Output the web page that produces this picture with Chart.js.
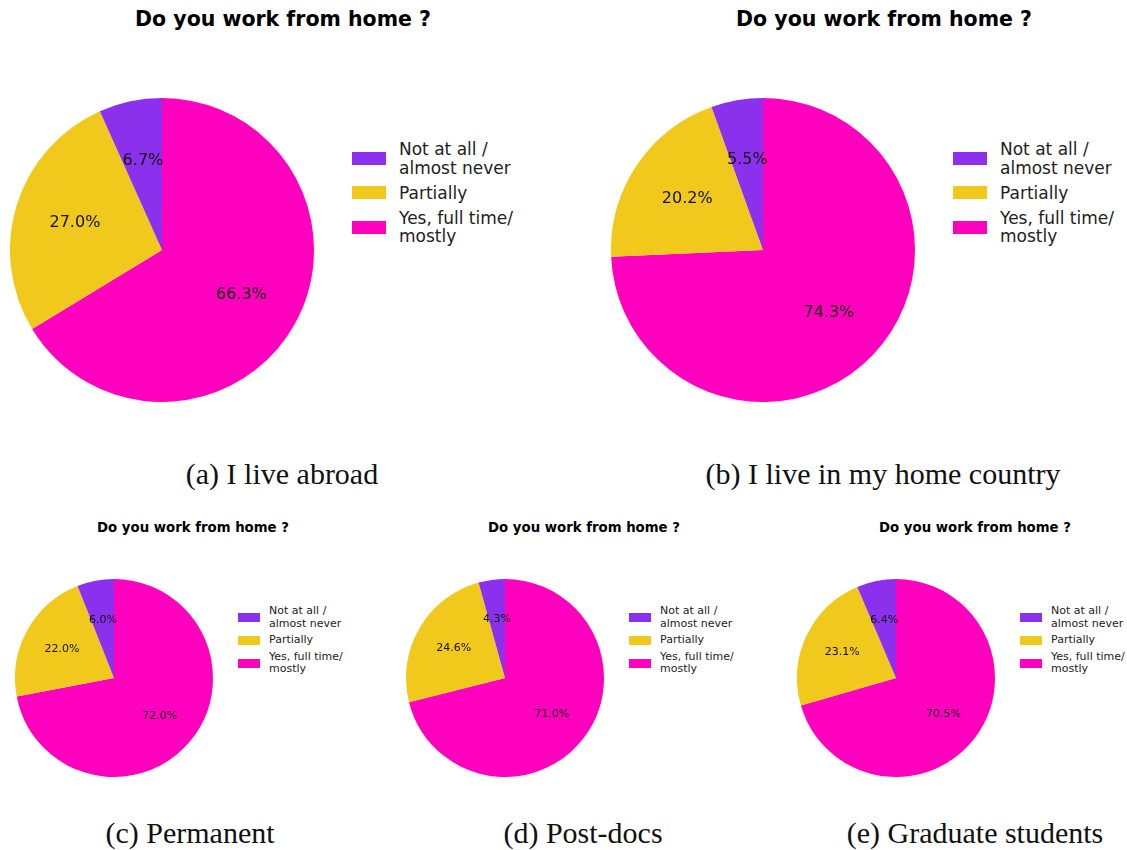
<!DOCTYPE html>
<html>
<head>
<meta charset="utf-8">
<script src="https://cdn.jsdelivr.net/npm/chart.js@4"></script>
<style>
  body { margin: 0; background: #fff; width: 1127px; height: 850px; position: relative; overflow: hidden; }
  .abs { position: absolute; }
  .title { font-family: "DejaVu Sans", sans-serif; font-weight: bold; color: #000; white-space: nowrap; transform: translate(-50%, -50%); }
  .caption { font-family: "Liberation Serif", "DejaVu Serif", serif; color: #111; white-space: nowrap; transform: translate(-50%, -50%); }
  .legend { font-family: "DejaVu Sans", sans-serif; color: #222; }
  .legend .item { display: flex; align-items: center; }
  .legend .sw { flex: none; }
</style>
</head>
<body>
<script>
// Categories and values (percent)
const categories = ['Not at all /\nalmost never', 'Partially', 'Yes, full time/\nmostly'];
const abroad = [6.7, 27.0, 66.3];
const homeCountry = [5.5, 20.2, 74.3];
const permanent = [6.0, 22.0, 72.0];
const postdocs = [4.3, 24.6, 71.0];
const gradStudents = [6.4, 23.1, 70.5];
const colors = ['#8B31EE', '#F1C91C', '#FF00BE'];

const chartTitle = 'Do you work from home ?';

// matplotlib-style percentage labels at 0.6 of the radius
const pctLabels = {
  id: 'pctLabels',
  afterDatasetsDraw(chart, args, opts) {
    const ctx = chart.ctx;
    const meta = chart.getDatasetMeta(0);
    const values = chart.data.datasets[0].data;
    ctx.save();
    ctx.font = opts.size + 'px "DejaVu Sans"';
    ctx.fillStyle = '#111';
    ctx.textAlign = 'center';
    ctx.textBaseline = 'middle';
    meta.data.forEach(function (arc, i) {
      const p = arc.getProps(['x', 'y', 'startAngle', 'endAngle', 'outerRadius'], true);
      const mid = (p.startAngle + p.endAngle) / 2;
      const r = p.outerRadius * 0.6;
      ctx.fillText(values[i].toFixed(1) + '%', p.x + Math.cos(mid) * r, p.y + Math.sin(mid) * r);
    });
    ctx.restore();
  }
};

function el(tag, cls, css, text) {
  const e = document.createElement(tag);
  if (cls) e.className = cls;
  Object.assign(e.style, css);
  if (text !== undefined) e.textContent = text;
  document.body.appendChild(e);
  return e;
}

function makePanel(p) {
  el('div', 'abs title', { left: p.titleX + 'px', top: p.titleY + 'px', fontSize: p.titleSize + 'px' }, chartTitle);
  el('div', 'abs caption', { left: p.capX + 'px', top: p.capY + 'px', fontSize: p.capSize + 'px' }, p.caption);

  const size = p.r * 2;
  const canvas = el('canvas', 'abs', { left: (p.cx - p.r) + 'px', top: (p.cy - p.r) + 'px', width: size + 'px', height: size + 'px' });
  canvas.width = size;
  canvas.height = size;

  // matplotlib draws counter-clockwise from the top; reverse order to draw clockwise
  new Chart(canvas, {
    type: 'pie',
    data: {
      labels: categories.slice().reverse(),
      datasets: [{
        data: p.values.slice().reverse(),
        backgroundColor: colors.slice().reverse(),
        borderWidth: 0
      }]
    },
    options: {
      responsive: false,
      animation: false,
      layout: { padding: 0 },
      plugins: {
        legend: { display: false },
        tooltip: { enabled: false },
        pctLabels: { size: p.pctSize }
      }
    },
    plugins: [pctLabels]
  });

  // legend
  const leg = el('div', 'abs legend', { left: p.legX + 'px', top: p.legY + 'px', fontSize: p.legSize + 'px', lineHeight: p.legLH + 'px' });
  categories.forEach(function (c, i) {
    const item = document.createElement('div');
    item.className = 'item';
    item.style.marginBottom = p.legGap + 'px';
    const sw = document.createElement('div');
    sw.className = 'sw';
    Object.assign(sw.style, { width: p.swW + 'px', height: p.swH + 'px', background: colors[i], marginRight: p.swGap + 'px' });
    const tx = document.createElement('div');
    tx.innerHTML = c.replace('\n', '<br>');
    item.appendChild(sw);
    item.appendChild(tx);
    leg.appendChild(item);
  });
}

const big = { r: 152, titleSize: 20.5, capSize: 30, pctSize: 16, legSize: 17, legLH: 18.5, legGap: 6.5, swW: 34, swH: 13, swGap: 13 };
const small = { r: 99, titleSize: 13.3, capSize: 30, pctSize: 11, legSize: 11, legLH: 12.5, legGap: 4, swW: 22, swH: 9, swGap: 9 };

makePanel(Object.assign({}, big, { values: abroad, caption: '(a) I live abroad', cx: 162, cy: 250, titleX: 283, titleY: 19, capX: 282, capY: 474, legX: 352, legY: 140 }));
makePanel(Object.assign({}, big, { values: homeCountry, caption: '(b) I live in my home country', cx: 763, cy: 250, titleX: 884, titleY: 19, capX: 883, capY: 474, legX: 953, legY: 140 }));
makePanel(Object.assign({}, small, { values: permanent, caption: '(c) Permanent', cx: 114, cy: 678, titleX: 193, titleY: 527, capX: 190, capY: 833, legX: 238, legY: 605 }));
makePanel(Object.assign({}, small, { values: postdocs, caption: '(d) Post-docs', cx: 505, cy: 678, titleX: 584, titleY: 527, capX: 583, capY: 833, legX: 629, legY: 605 }));
makePanel(Object.assign({}, small, { values: gradStudents, caption: '(e) Graduate students', cx: 896, cy: 678, titleX: 975, titleY: 527, capX: 975, capY: 833, legX: 1020, legY: 605 }));
</script>
</body>
</html>
